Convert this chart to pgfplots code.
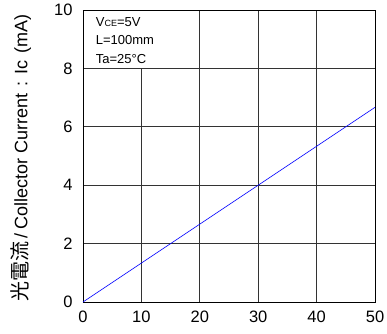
\documentclass[border=0pt]{standalone}
\usepackage{pgfplots}
\pgfplotsset{compat=1.18}
\usepackage{fontspec}
\setmainfont{Liberation Sans}
\newfontfamily\cjk{Noto Sans CJK JP}
\begin{document}
\begin{tikzpicture}
\begin{axis}[
  scale only axis,
  width=292pt, height=292pt,
  xmin=0, xmax=50, ymin=0, ymax=10,
  xtick={0,10,...,50}, ytick={0,2,...,10},
  grid=major,
  major grid style={black!80, line width=0.7pt},
  axis line style={black, line width=0.8pt},
  tick style={draw=none},
  ticklabel style={font=\fontsize{16.5}{16.5}\selectfont},
  /pgf/number format/assume math mode=true,
  xticklabel style={yshift=-5pt},
  yticklabel style={xshift=-7pt},
  clip=false,
]
\coordinate (O) at (rel axis cs:0,0);
\addplot[blue, line width=0.6pt] coordinates {(0,0) (50,6.6667)};
\fill[white] (axis cs:0.1,8.03) rectangle (axis cs:19.9,9.97);
\begin{scope}[every node/.style={anchor=base west, inner sep=0pt, font=\fontsize{13}{13}\selectfont}]
\node at (axis cs:2.17,9.442) {V{\fontsize{9}{9}\selectfont CE}=5V};
\node at (axis cs:2.17,8.812) {L=100mm};
\node at (axis cs:2.17,8.185) {Ta=25\textdegree C};
\end{scope}
\node[rotate=90, anchor=base west, inner sep=0pt, font=\fontsize{18}{18}\selectfont] at ([xshift=-55.5pt]rel axis cs:0,0)
  {{\cjk\fontsize{20}{20}\selectfont 光電流}\hspace{3pt}/\hspace{4pt}Collector Current\hspace{7pt}:\hspace{7pt}Ic\hspace{7pt}(mA)};
\end{axis}
\pgfresetboundingbox
\path (O) ++(-83pt,-31pt) rectangle ++(387pt,333pt);
\end{tikzpicture}
\end{document}
